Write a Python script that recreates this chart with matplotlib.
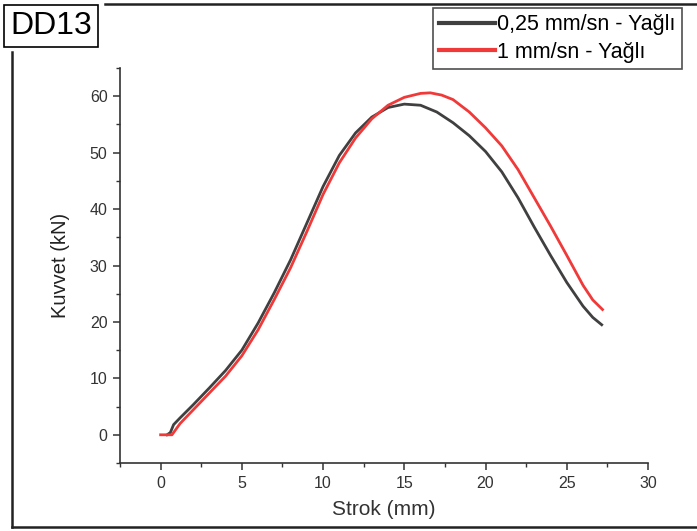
import matplotlib
matplotlib.use("Agg")
import matplotlib.pyplot as plt
from matplotlib.lines import Line2D
from matplotlib.ticker import MultipleLocator

plt.rcParams['font.family'] = ['Liberation Sans', 'DejaVu Sans']

# 0,25 mm/sn - Yağlı
strok_025 = [0.4, 0.6, 0.8, 1.2, 2.0, 3.0, 4.0, 5.0, 6.0, 7.0, 8.0, 9.0, 10.0, 11.0,
             12.0, 13.0, 14.0, 15.0, 16.0, 17.0, 18.0, 19.0, 20.0, 21.0, 22.0, 23.0,
             24.0, 25.0, 26.0, 26.6, 27.15]
kuvvet_025 = [0.0, 0.4, 1.8, 3.0, 5.3, 8.3, 11.4, 15.0, 19.8, 25.2, 31.0, 37.5, 44.0,
              49.5, 53.5, 56.3, 58.0, 58.6, 58.4, 57.2, 55.3, 53.0, 50.2, 46.6, 42.0,
              36.8, 31.8, 27.0, 22.8, 20.8, 19.5]

# 1 mm/sn - Yağlı
strok_1 = [0.0, 0.7, 0.9, 1.2, 2.0, 3.0, 4.0, 5.0, 6.0, 7.0, 8.0, 9.0, 10.0, 11.0,
           12.0, 13.0, 14.0, 15.0, 16.0, 16.6, 17.3, 18.0, 19.0, 20.0, 21.0, 22.0,
           23.0, 24.0, 25.0, 26.0, 26.6, 27.2]
kuvvet_1 = [0.0, 0.0, 0.8, 2.0, 4.4, 7.4, 10.4, 14.0, 18.6, 24.0, 29.6, 36.0, 42.6,
            48.2, 52.6, 56.0, 58.4, 59.8, 60.5, 60.6, 60.2, 59.4, 57.2, 54.4, 51.2,
            47.0, 42.0, 37.0, 31.8, 26.5, 23.9, 22.2]

W, H = 697, 531
fig = plt.figure(figsize=(W / 100, H / 100), dpi=100)
ax = fig.add_axes([120 / W, 1 - 463 / H, (648 - 120) / W, (463 - 68) / H])

ax.plot(strok_025, kuvvet_025, color='#404040', lw=2.0, label='0,25 mm/sn - Yağlı')
ax.plot(strok_1, kuvvet_1, color='#f03a3a', lw=2.0, label='1 mm/sn - Yağlı')

ax.set_xlim(-2.5, 30)
ax.set_ylim(-5, 65)
ax.xaxis.set_major_locator(MultipleLocator(5))
ax.xaxis.set_minor_locator(MultipleLocator(2.5))
ax.yaxis.set_major_locator(MultipleLocator(10))
ax.yaxis.set_minor_locator(MultipleLocator(5))

for s in ['top', 'right']:
    ax.spines[s].set_visible(False)
for s in ['left', 'bottom']:
    ax.spines[s].set_linewidth(1.2)
    ax.spines[s].set_color('#333333')
ax.tick_params(which='major', direction='out', length=5, width=1.1, color='#333333',
               labelsize=11.5, labelcolor='#333333', pad=4)
ax.tick_params(which='minor', direction='out', length=3, width=1.0, color='#333333')

ax.set_xlabel('Strok (mm)', fontsize=15, color='#333333', labelpad=7)
ax.set_ylabel('Kuvvet (kN)', fontsize=14.5, color='#222222', labelpad=14)

leg = ax.legend(loc='upper right', bbox_to_anchor=(682 / W, 1 - 8 / H),
                bbox_transform=fig.transFigure, fontsize=15.5, frameon=True,
                fancybox=False, edgecolor='#222222', handlelength=2.6,
                handletextpad=0.1, borderpad=0.3, labelspacing=0.3,
                borderaxespad=0)
leg.get_frame().set_linewidth(1.2)
for line in leg.get_lines():
    line.set_linewidth(3)

# outer frame
fig.add_artist(Line2D([105 / W, 1], [1 - 4 / H, 1 - 4 / H], color='#222222', lw=1.8,
                      transform=fig.transFigure))
fig.add_artist(Line2D([12 / W, 12 / W], [1 - 52 / H, 1 - 527 / H], color='#222222', lw=1.8,
                      transform=fig.transFigure))
fig.add_artist(Line2D([12 / W, 1], [1 - 527 / H, 1 - 527 / H], color='#222222', lw=1.8,
                      transform=fig.transFigure))

fig.text(51 / W, 1 - 26 / H, 'DD13', fontsize=23, ha='center', va='center',
         bbox=dict(boxstyle='square,pad=0.2', fc='white', ec='black', lw=1.2))

fig.savefig('out.png', dpi=100)
